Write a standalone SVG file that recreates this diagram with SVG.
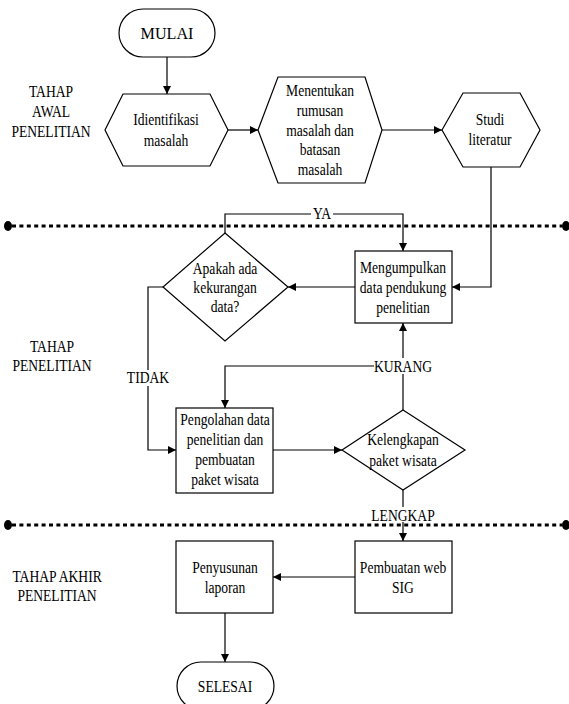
<svg xmlns="http://www.w3.org/2000/svg" width="569" height="704" viewBox="0 0 569 704">
<style>
text { font-family: 'Liberation Serif', 'Times New Roman', serif; font-size: 17px; text-anchor: middle; fill: #000; transform-box: fill-box; transform-origin: center; transform: scaleX(0.8); }
text.wide { transform: scaleX(0.95); }
.shape { fill: #fff; stroke: #000; stroke-width: 1.2; }
.conn { fill: none; stroke: #000; stroke-width: 1.2; }
.sep { fill: none; stroke: #000; stroke-width: 3; stroke-dasharray: 4 3.4; }
.lblbg { fill: #fff; }
</style>
<defs>
<marker id="arr" markerUnits="userSpaceOnUse" markerWidth="9" markerHeight="8" refX="8" refY="4" orient="auto">
<path d="M0,0 L8,4 L0,8 z" fill="#000"/>
</marker>
</defs>
<rect width="569" height="704" fill="#fff"/>

<g id="separators">
<line class="sep" x1="12" y1="226" x2="562" y2="226"/>
<ellipse cx="8" cy="226" rx="4" ry="5"/>
<ellipse cx="566" cy="226" rx="4" ry="5"/>
<line class="sep" x1="12" y1="525" x2="562" y2="525"/>
<ellipse cx="8" cy="525" rx="4" ry="5"/>
<ellipse cx="566" cy="525" rx="4" ry="5"/>
</g>

<g id="stage-labels">
<text x="51" y="97">TAHAP</text>
<text x="51" y="117">AWAL</text>
<text x="51" y="137">PENELITIAN</text>
<text x="52" y="352">TAHAP</text>
<text x="52" y="371">PENELITIAN</text>
<text x="57" y="582">TAHAP AKHIR</text>
<text x="57" y="601">PENELITIAN</text>
</g>

<g id="connectors">
<line class="conn" x1="167" y1="57" x2="167" y2="94" marker-end="url(#arr)"/>
<line class="conn" x1="228" y1="130" x2="258" y2="130" marker-end="url(#arr)"/>
<line class="conn" x1="382" y1="130" x2="442" y2="130" marker-end="url(#arr)"/>
<path class="conn" d="M491,167 V287 H452" marker-end="url(#arr)"/>
<line class="conn" x1="355" y1="287" x2="288" y2="287" marker-end="url(#arr)"/>
<path class="conn" d="M225,233 V214 H403 V251" marker-end="url(#arr)"/>
<path class="conn" d="M163,287 H148 V450 H176" marker-end="url(#arr)"/>
<line class="conn" x1="273" y1="450" x2="342" y2="450" marker-end="url(#arr)"/>
<line class="conn" x1="403" y1="410" x2="403" y2="323" marker-end="url(#arr)"/>
<path class="conn" d="M403,366 H225 V408" marker-end="url(#arr)"/>
<line class="conn" x1="403" y1="490" x2="403" y2="541" marker-end="url(#arr)"/>
<line class="conn" x1="355" y1="577" x2="273" y2="577" marker-end="url(#arr)"/>
<line class="conn" x1="225" y1="613" x2="225" y2="662" marker-end="url(#arr)"/>
<rect class="lblbg" x="311" y="207" width="22" height="14"/>
<text x="322" y="219">YA</text>
<rect class="lblbg" x="124" y="370" width="48" height="16"/>
<text x="148" y="383">TIDAK</text>
<rect class="lblbg" x="374" y="358" width="58" height="16"/>
<text x="403" y="372">KURANG</text>
<rect class="lblbg" x="370" y="507" width="66" height="15"/>
<text x="403" y="521">LENGKAP</text>
</g>

<g id="mulai">
<rect class="shape" x="119" y="9" width="96" height="48" rx="24" ry="24"/>
<text class="wide" x="167" y="39">MULAI</text>
</g>

<g id="identifikasi">
<polygon class="shape" points="105,130 123,94 210,94 228,130 210,166 123,166"/>
<text x="166" y="125">Idientifikasi</text>
<text x="166" y="146">masalah</text>
</g>

<g id="menentukan">
<polygon class="shape" points="258,130 278,77 365,77 382,130 365,183 278,183"/>
<text x="320" y="96">Menentukan</text>
<text x="320" y="116">rumusan</text>
<text x="320" y="136">masalah dan</text>
<text x="320" y="155">batasan</text>
<text x="320" y="175">masalah</text>
</g>

<g id="studi">
<polygon class="shape" points="442,130 463,93 520,93 540,130 520,167 463,167"/>
<text x="490" y="125">Studi</text>
<text x="490" y="145">literatur</text>
</g>

<g id="mengumpulkan">
<rect class="shape" x="355" y="251" width="97" height="72"/>
<text x="403" y="273">Mengumpulkan</text>
<text x="403" y="293">data pendukung</text>
<text x="403" y="313">penelitian</text>
</g>

<g id="apakah">
<polygon class="shape" points="225,233 288,287 225,341 163,287"/>
<text x="225" y="274">Apakah ada</text>
<text x="225" y="293">kekurangan</text>
<text x="225" y="312">data?</text>
</g>

<g id="pengolahan">
<rect class="shape" x="176" y="408" width="97" height="85"/>
<text x="225" y="425">Pengolahan data</text>
<text x="225" y="445">penelitian dan</text>
<text x="225" y="465">pembuatan</text>
<text x="225" y="485">paket wisata</text>
</g>

<g id="kelengkapan">
<polygon class="shape" points="403,410 465,450 403,490 342,450"/>
<text x="403" y="445">Kelengkapan</text>
<text x="403" y="466">paket wisata</text>
</g>

<g id="pembuatan">
<rect class="shape" x="355" y="541" width="97" height="72"/>
<text x="403" y="573">Pembuatan web</text>
<text x="403" y="593">SIG</text>
</g>

<g id="penyusunan">
<rect class="shape" x="176" y="541" width="97" height="72"/>
<text x="225" y="573">Penyusunan</text>
<text x="225" y="593">laporan</text>
</g>

<g id="selesai">
<rect class="shape" x="177" y="662" width="97" height="48" rx="24" ry="24"/>
<text x="225" y="692">SELESAI</text>
</g>
</svg>
